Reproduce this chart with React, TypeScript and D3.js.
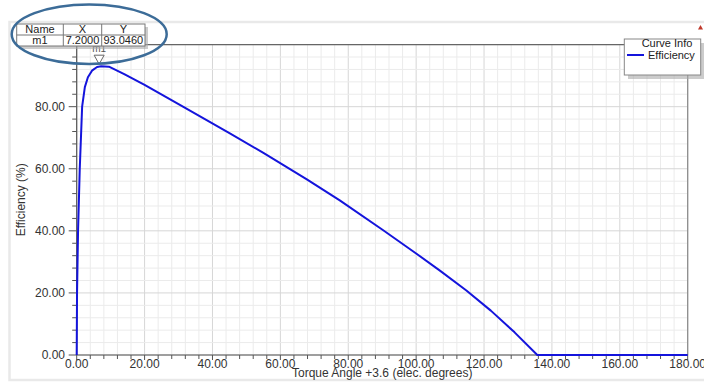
import React from "react";
import * as d3 from "d3";

const angle = [0, 0.1, 0.4, 0.9, 1.6, 2.4, 3.3, 4.5, 6.0, 7.2, 9.5, 14, 20, 31.3, 45, 55, 67.8, 77.5, 90.3, 100, 107, 114.8, 122, 129, 135.7, 140, 160, 180];
const efficiency = [0, 20, 40, 60, 80, 86.3, 89.5, 91.6, 92.8, 93.05, 92.9, 90.5, 87.0, 80, 71.5, 65.1, 56.6, 49.8, 40.2, 32.7, 27.2, 20.8, 14.3, 7.3, 0, 0, 0, 0];
const xMajorTicks = [0, 20, 40, 60, 80, 100, 120, 140, 160, 180];
const yMajorTicks = [0, 20, 40, 60, 80];
const markerName = "m1";
const markerX = 7.2;
const markerY = 93.046;
const tableHeaders = ["Name", "X", "Y"];
const tableRow = ["m1", "7.2000", "93.0460"];
const legendTitle = "Curve Info";
const seriesName = "Efficiency";
const xTitle = "Torque Angle +3.6 (elec. degrees)";
const yTitle = "Efficiency (%)";

export default function App() {
  const W = 704, H = 385;
  const x = d3.scaleLinear().domain([0, 180]).range([76.7, 687.7]);
  const y = d3.scaleLinear().domain([0, 100]).range([355, 44.6]);
  const xMinor = d3.range(0, 180.001, 4);
  const yMinor = d3.range(0, 100.001, 4);
  const fmt = d3.format(".2f");
  const pts: [number, number][] = angle.map((a, i) => [a, efficiency[i]]);
  const line = d3.line<[number, number]>().x(d => x(d[0])).y(d => y(d[1]));
  const font = "'Liberation Sans', Arial, sans-serif";
  const [x0, x1] = x.range();
  const [y0, y1] = y.range();
  const mx = x(markerX), my = y(markerY);
  const colX = [16.7, 63.3, 101.7, 145];
  const rowY = [24, 35, 46];
  return (
    <svg width={W} height={H} style={{ position: "absolute", left: 0, top: 0 }} fontFamily={font}>
      <rect x={0} y={0} width={W} height={H} fill="#fff" />
      <rect x={9.5} y={22} width={W} height={358} fill="#fff" stroke="#e9e9e9" strokeWidth={2.5} />
      {xMinor.map(v => (
        <line key={"gx" + v} x1={x(v)} x2={x(v)} y1={y0} y2={y1} stroke={v % 20 === 0 ? "#d6d6d6" : "#ebebeb"} strokeWidth={1} />
      ))}
      {yMinor.map(v => (
        <line key={"gy" + v} x1={x0} x2={x1} y1={y(v)} y2={y(v)} stroke={v % 20 === 0 ? "#d6d6d6" : "#ebebeb"} strokeWidth={1} />
      ))}
      <line x1={x0} x2={x1} y1={y1} y2={y1} stroke="#666" strokeWidth={1.2} />
      <line x1={x1} x2={x1} y1={y1} y2={y0} stroke="#888" strokeWidth={1.2} />
      <line x1={x0} x2={x0} y1={y1} y2={y0} stroke="#555" strokeWidth={1.2} />
      <line x1={x0} x2={x1} y1={y0} y2={y0} stroke="#555" strokeWidth={1.2} />
      {xMinor.map(v => (
        <line key={"tx" + v} x1={x(v)} x2={x(v)} y1={y0} y2={y0 + (v % 20 === 0 ? 5 : 4)} stroke="#555" />
      ))}
      {yMinor.map(v => (
        <line key={"ty" + v} x1={x0} x2={x0 - (v % 20 === 0 ? 8 : 4.5)} y1={y(v)} y2={y(v)} stroke="#555" />
      ))}
      {xMajorTicks.map(v => (
        <text key={"lx" + v} x={x(v)} y={368} textAnchor="middle" fontSize={12} fill="#333">{fmt(v)}</text>
      ))}
      {yMajorTicks.map(v => (
        <text key={"ly" + v} x={65} y={y(v)} dy="0.32em" textAnchor="end" fontSize={12} fill="#333">{fmt(v)}</text>
      ))}
      <text x={(x0 + x1) / 2} y={377} textAnchor="middle" fontSize={12} fill="#333">{xTitle}</text>
      <text transform={`translate(20.7,${(y0 + y1) / 2}) rotate(-90)`} textAnchor="middle" dy="0.35em" fontSize={12} fill="#333">{yTitle}</text>
      <path d={line(pts) || ""} fill="none" stroke="#1414dc" strokeWidth={2} strokeLinejoin="round" />
      <text x={mx - 2} y={52} textAnchor="middle" fontSize={10} fill="#555">{markerName}</text>
      <path d={`M${mx - 7},${my - 11} L${mx + 3},${my - 11} L${mx - 2},${my - 2} Z`} fill="#fff" stroke="#666" strokeWidth={1} />
      <rect x={colX[0] + 3} y={rowY[0] + 3} width={colX[3] - colX[0]} height={rowY[2] - rowY[0]} fill="#aaa" opacity={0.6} />
      <rect x={colX[0]} y={rowY[0]} width={colX[3] - colX[0]} height={rowY[2] - rowY[0]} fill="#fff" stroke="#777" strokeWidth={1} />
      <line x1={colX[0]} x2={colX[3]} y1={rowY[1]} y2={rowY[1]} stroke="#777" />
      <line x1={colX[1]} x2={colX[1]} y1={rowY[0]} y2={rowY[2]} stroke="#777" />
      <line x1={colX[2]} x2={colX[2]} y1={rowY[0]} y2={rowY[2]} stroke="#777" />
      {tableHeaders.map((t, i) => (
        <text key={"th" + i} x={(colX[i] + colX[i + 1]) / 2} y={(rowY[0] + rowY[1]) / 2} dy="0.35em" textAnchor="middle" fontSize={11} fill="#222">{t}</text>
      ))}
      {tableRow.map((t, i) => (
        <text key={"td" + i} x={(colX[i] + colX[i + 1]) / 2} y={(rowY[1] + rowY[2]) / 2} dy="0.35em" textAnchor="middle" fontSize={11} fill="#222">{t}</text>
      ))}
      <rect x={628} y={43} width={77} height={36} fill="#aaa" opacity={0.6} />
      <rect x={624.3} y={39} width={76.4} height={36} fill="#fff" stroke="#888" strokeWidth={1} />
      <text x={667} y={43.5} dy="0.35em" textAnchor="middle" fontSize={11} fill="#222">{legendTitle}</text>
      <line x1={627} x2={644} y1={55} y2={55} stroke="#1414dc" strokeWidth={2} />
      <text x={648} y={55} dy="0.35em" fontSize={11} fill="#222">{seriesName}</text>
      <path d="M698,29.5 L703,29.5 L700.5,25 Z" fill="#c0392b" />
      <ellipse cx={89.2} cy={34.2} rx={77.5} ry={29.8} fill="none" stroke="#3c6c98" strokeWidth={2.5} />
    </svg>
  );
}
